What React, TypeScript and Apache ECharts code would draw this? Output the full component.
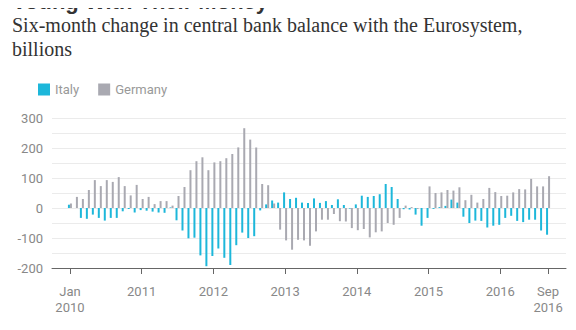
import React, { useEffect, useRef } from "react";
import * as echarts from "echarts";

// Monthly data, Jan 2010 .. Sep 2016 (81 months), billions
const firstYear = 2010;
const italy: number[] = [
  11, 0, -33, -36, -22, -33, -42, -33, -33, -11, -3, -15,
  -7, -9, -12, -15, -16, 2, -41, -75, -101, -99, -158, -194,
  -160, -135, -166, -190, -124, -82, -100, -94, -8, 12, 25, 18,
  52, 30, 34, 18, 17, 32, 17, 23, 10, 29, 10, -2,
  12, 41, 37, 40, 46, 80, 70, 30, -4, -5, -22, -59,
  -33, -3, 3, 7, 28, 18, -29, -50, -42, -43, -65, -59,
  -56, -33, -26, -43, -47, -39, -39, -75, -89,
];
const germany: number[] = [
  15, 37, 30, 60, 93, 73, 93, 87, 103, 73, 42, 77,
  30, 37, 13, 23, 23, 8, 40, 70, 126, 156, 169, 126,
  152, 156, 166, 180, 202, 266, 228, 202, 80, 76, 15, -72,
  -108, -139, -106, -108, -126, -78, -39, -39, -20, -44, -45, -67,
  -74, -70, -98, -81, -78, -50, -56, -33, 8, 3, -3, 0,
  72, 50, 52, 60, 58, 69, 26, 44, 18, 30, 67, 53,
  40, 41, 52, 63, 62, 97, 72, 72, 106,
];
const yTickLabels = [-200, -100, 0, 100, 200, 300];
const PAD = 3; // empty months before and after the data

const MONTHS = ["Jan", "Feb", "Mar", "Apr", "May", "Jun", "Jul", "Aug", "Sep", "Oct", "Nov", "Dec"];

function buildCategories(): string[] {
  const cats: string[] = [];
  const total = italy.length + PAD * 2;
  for (let i = 0; i < total; i++) {
    const m = i - PAD;
    const year = firstYear + Math.floor(m / 12);
    const mon = ((m % 12) + 12) % 12;
    cats.push(MONTHS[mon] + " " + year);
  }
  return cats;
}

export default function App() {
  const ref = useRef<HTMLDivElement>(null);
  useEffect(() => {
    if (!ref.current) return;
    const chart = echarts.init(ref.current, null, { renderer: "svg" });
    const categories = buildCategories();
    const pad: null[] = new Array(PAD).fill(null);
    const lastIdx = PAD + italy.length - 1;
    const isLabelIdx = (i: number) => {
      const m = i - PAD;
      if (m < 0 || m > italy.length - 1) return false;
      return m % 12 === 0 || i === lastIdx;
    };
    const labelFor = (i: number) => {
      const m = i - PAD;
      const year = firstYear + Math.floor(m / 12);
      if (m === 0) return "Jan\n" + year;
      if (i === lastIdx) return categories[i].replace(" ", "\n");
      return String(year);
    };
    const axisFont = "Roboto";
    chart.setOption({
      animation: false,
      graphic: [
        {
          type: "text",
          x: 12,
          y: 1.5,
          style: {
            text: "Voting With Their Money",
            font: 'bold 22px "Liberation Sans"',
            fill: "#333",
            verticalAlign: "middle",
          },
        },
        {
          type: "text",
          x: 12,
          y: 25,
          style: {
            text: "Six-month change in central bank balance with the Eurosystem,",
            font: '20px "Liberation Serif"',
            fill: "#333",
            verticalAlign: "middle",
          },
        },
        {
          type: "text",
          x: 12,
          y: 49,
          style: {
            text: "billions",
            font: '20px "Liberation Serif"',
            fill: "#333",
            verticalAlign: "middle",
          },
        },
      ],
      legend: {
        left: 33,
        top: 78,
        itemWidth: 12,
        itemHeight: 12,
        itemGap: 19,
        icon: "rect",
        textStyle: { fontSize: 13, color: "#999", fontFamily: axisFont },
        data: ["Italy", "Germany"],
      },
      grid: { left: 52, right: 10, top: 118, bottom: 62, containLabel: false },
      xAxis: {
        type: "category",
        data: categories,
        boundaryGap: false,
        axisLine: { onZero: false, lineStyle: { color: "#666", width: 1 } },
        axisTick: {
          interval: (i: number) => isLabelIdx(i),
          length: 6,
          lineStyle: { color: "#666" },
        },
        axisLabel: {
          interval: (i: number) => isLabelIdx(i),
          formatter: (_v: string, i: number) => labelFor(i),
          color: "#888",
          fontSize: 13,
          fontFamily: axisFont,
          margin: 15,
          lineHeight: 16,
        },
        splitLine: { show: false },
      },
      yAxis: {
        type: "value",
        min: -200,
        max: 300,
        interval: 50,
        axisLine: { show: false },
        axisTick: { show: false },
        axisLabel: {
          formatter: (v: number) => (yTickLabels.includes(v) ? String(v) : ""),
          color: "#888",
          fontSize: 13,
          fontFamily: axisFont,
          margin: 9,
        },
        splitLine: { lineStyle: { color: "#ebebeb", width: 1 } },
      },
      series: [
        {
          name: "Italy",
          type: "bar",
          data: [...pad, ...italy, ...pad],
          barWidth: 2,
          barGap: "0%",
          itemStyle: { color: "#1db7da" },
        },
        {
          name: "Germany",
          type: "bar",
          data: [...pad, ...germany, ...pad],
          barWidth: 2,
          itemStyle: { color: "#a9a9b1" },
        },
      ],
    });
    return () => chart.dispose();
  }, []);
  return <div ref={ref} style={{ width: 576, height: 330, margin: -8 }} />;
}
